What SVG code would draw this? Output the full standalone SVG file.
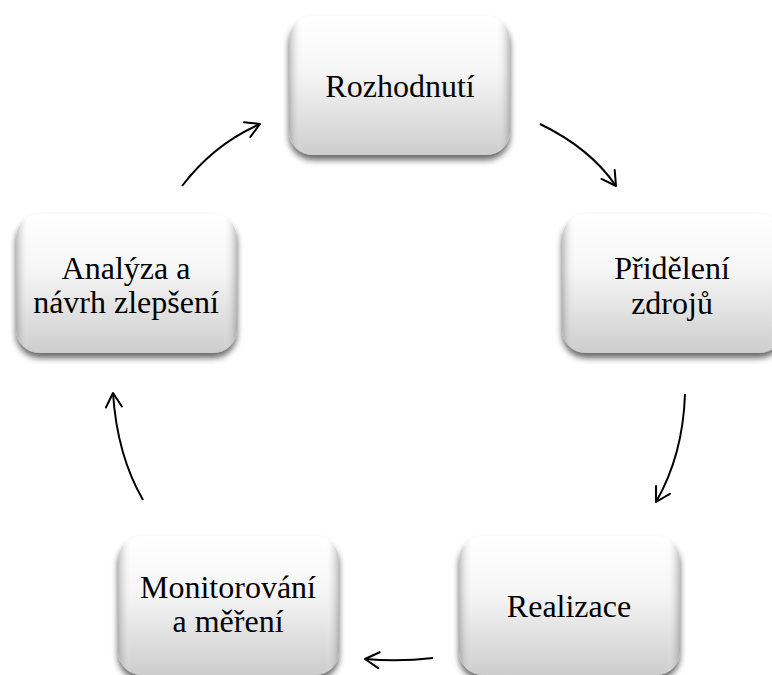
<svg xmlns="http://www.w3.org/2000/svg" width="772" height="675" viewBox="0 0 772 675">
<defs>
<linearGradient id="gv" x1="0" y1="0" x2="0" y2="1">
<stop offset="0" stop-color="#ffffff"/>
<stop offset="0.4" stop-color="#f6f6f6"/>
<stop offset="1" stop-color="#cdcdcd"/>
</linearGradient>
<linearGradient id="gh" x1="0" y1="0" x2="1" y2="0">
<stop offset="0" stop-color="#808080" stop-opacity="0.5"/>
<stop offset="0.06" stop-color="#ffffff" stop-opacity="0"/>
<stop offset="0.94" stop-color="#ffffff" stop-opacity="0"/>
<stop offset="1" stop-color="#808080" stop-opacity="0.5"/>
</linearGradient>
<filter id="sh" x="-10%" y="-10%" width="120%" height="130%">
<feGaussianBlur in="SourceAlpha" stdDeviation="3"/>
<feOffset dx="0" dy="5" result="b"/>
<feComponentTransfer><feFuncA type="linear" slope="0.6"/></feComponentTransfer>
<feMerge><feMergeNode/><feMergeNode in="SourceGraphic"/></feMerge>
</filter>
<marker id="ah" viewBox="0 0 20 20" refX="16" refY="10" markerWidth="20" markerHeight="20" markerUnits="userSpaceOnUse" orient="auto">
<polyline points="2,2 16,10 2,18" fill="none" stroke="#000" stroke-width="2" stroke-linecap="round" stroke-linejoin="round"/>
</marker>
</defs>
<style>
.box{fill:url(#gv);filter:url(#sh);}
.bev{fill:url(#gh);}
.t{font-family:"Liberation Serif","Times New Roman",serif;font-size:32px;fill:#000;text-anchor:middle;}
.c{fill:none;stroke:#000;stroke-width:2;marker-end:url(#ah);}
</style>
<g id="n1">
<rect class="box" x="289" y="16" width="221" height="139" rx="24"/>
<rect class="bev" x="289" y="16" width="221" height="139" rx="24"/>
<text class="t" x="400" y="97">Rozhodnutí</text>
</g>
<g id="n2">
<rect class="box" x="562" y="214" width="221" height="139" rx="24"/>
<rect class="bev" x="562" y="214" width="221" height="139" rx="24"/>
<text class="t" x="672" y="279">Přidělení</text>
<text class="t" x="672" y="314">zdrojů</text>
</g>
<g id="n3">
<rect class="box" x="459" y="536" width="221" height="139" rx="24"/>
<rect class="bev" x="459" y="536" width="221" height="139" rx="24"/>
<text class="t" x="569" y="617">Realizace</text>
</g>
<g id="n4">
<rect class="box" x="118" y="536" width="221" height="139" rx="24"/>
<rect class="bev" x="118" y="536" width="221" height="139" rx="24"/>
<text class="t" x="228" y="598">Monitorování</text>
<text class="t" x="228" y="632">a měření</text>
</g>
<g id="n5">
<rect class="box" x="16" y="214" width="221" height="139" rx="24"/>
<rect class="bev" x="16" y="214" width="221" height="139" rx="24"/>
<text class="t" x="126" y="279">Analýza a</text>
<text class="t" x="126" y="313">návrh zlepšení</text>
</g>
<g id="connectors">
<path class="c" d="M540,124 Q590,148 616,186"/>
<path class="c" d="M685,394 Q683,455 656,502"/>
<path class="c" d="M433,658 Q400,662 365,659"/>
<path class="c" d="M143,500 Q117,455 113,393"/>
<path class="c" d="M182,186 Q214,144 260,124"/>
</g>
</svg>
